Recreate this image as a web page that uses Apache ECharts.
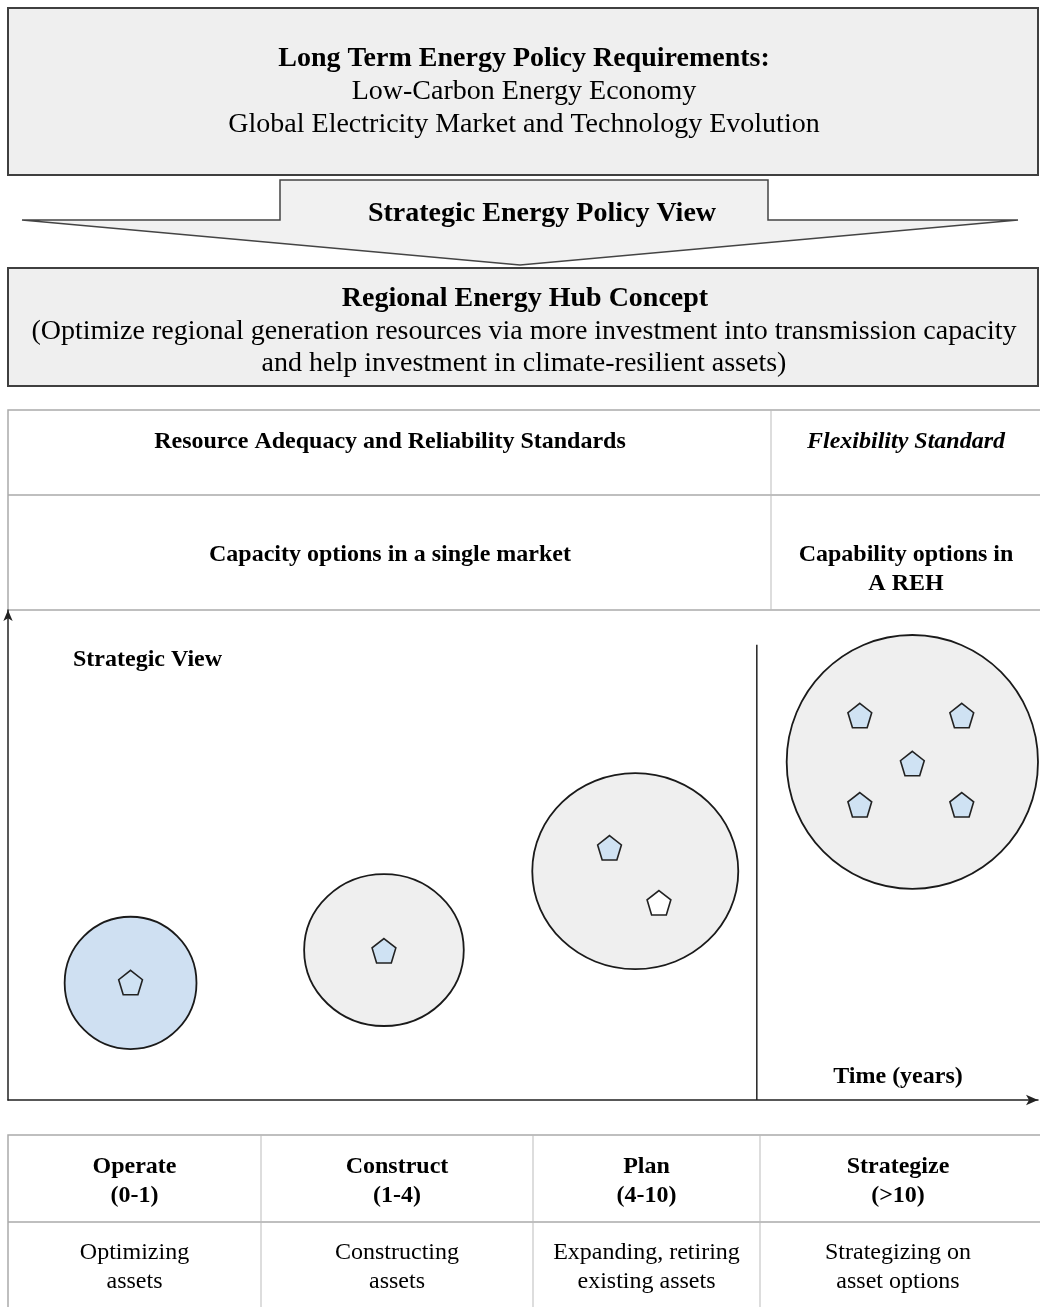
<!DOCTYPE html>
<html>
<head>
<meta charset="utf-8">
<script src="https://cdn.jsdelivr.net/npm/echarts@6/dist/echarts.min.js"></script>
<style>
html,body{margin:0;padding:0;background:#fff;}
#chart{width:1040px;height:1307px;}
</style>
</head>
<body>
<div id="chart"></div>
<script>
// ---------- DATA ----------
const policyTitle = 'Long Term Energy Policy Requirements:';
const policyLines = ['Low-Carbon Energy Economy', 'Global Electricity Market and Technology Evolution'];
const arrowLabel = 'Strategic Energy Policy View';
const hubTitle = 'Regional Energy Hub Concept';
const hubLines = ['(Optimize regional generation resources via more investment into transmission capacity',
                  'and help investment in climate-resilient assets)'];
const standardsRow = ['Resource Adequacy and Reliability Standards', 'Flexibility Standard'];
const optionsRow = [['Capacity options in a single market'], ['Capability options in', 'A REH']];
const stageNames = ['Operate', 'Construct', 'Plan', 'Strategize'];
const stageYears = ['(0-1)', '(1-4)', '(4-10)', '(>10)'];
const stageActivities = [['Optimizing', 'assets'], ['Constructing', 'assets'],
                         ['Expanding, retiring', 'existing assets'], ['Strategizing on', 'asset options']];
const plotLabel = 'Strategic View';
const timeLabel = 'Time (years)';

// circles (portfolio of options per stage), axis units: x 0-100 (time), y 0-100 (strategic view)
const circleX  = [11.9, 36.5, 60.9, 87.8];
const circleY  = [23.9, 30.6, 46.7, 69.0];
const circleRX = [6.4, 7.75, 10.0, 12.2];
const circleRY = [13.5, 15.5, 20.0, 25.9];
const circleOperating = [1, 0, 0, 0];

// pentagons (individual assets / options)
const assetX = [11.9, 36.5, 58.4, 63.2, 82.7, 92.6, 87.8, 82.7, 92.6];
const assetY = [23.9, 30.4, 51.4, 40.2, 78.4, 78.4, 68.6, 60.2, 60.2];
const assetActive = [1, 1, 1, 0, 1, 1, 1, 1, 1];

// REH boundary position on the time axis
const rehBoundaryX = 72.7;
const rehBoundaryTop = 92.9;

// ---------- CHART ----------
const FONT = '"Liberation Serif", "Times New Roman", serif';
const chart = echarts.init(document.getElementById('chart'), null, {renderer: 'canvas'});

function txt(x, y, text, size, weight, align, style) {
  return {
    type: 'text', x: x, y: y + 2, z: 10,
    style: {
      text: text, fill: '#000', font: (style || 'normal') + ' ' + (weight || 'normal') + ' ' + size + 'px ' + FONT,
      textAlign: align || 'center', textVerticalAlign: 'middle'
    }
  };
}
function hline(x1, x2, y, color, w) {
  return {type: 'line', shape: {x1: x1, y1: y, x2: x2, y2: y}, style: {stroke: color, lineWidth: w}};
}
function vline(x, y1, y2, color, w) {
  return {type: 'line', shape: {x1: x, y1: y1, x2: x, y2: y2}, style: {stroke: color, lineWidth: w}};
}

const graphics = [];
// top box
graphics.push({type: 'rect', shape: {x: 8, y: 8, width: 1030, height: 167},
  style: {fill: '#efefef', stroke: '#3f3f3f', lineWidth: 2}});
graphics.push(txt(524, 57, policyTitle, 28, 'bold'));
policyLines.forEach((t, i) => graphics.push(txt(524, 90 + i * 33, t, 28)));
// arrow
graphics.push({type: 'polygon', shape: {points: [[280, 180], [768, 180], [768, 220], [1018, 220], [520, 265], [22, 220], [280, 220]]},
  style: {fill: '#f1f1f1', stroke: '#444444', lineWidth: 1.5}});
graphics.push(txt(542, 212, arrowLabel, 28, 'bold'));
// hub box
graphics.push({type: 'rect', shape: {x: 8, y: 268, width: 1030, height: 118},
  style: {fill: '#efefef', stroke: '#3f3f3f', lineWidth: 2}});
graphics.push(txt(525, 297, hubTitle, 28, 'bold'));
hubLines.forEach((t, i) => graphics.push(txt(524, 330 + i * 32, t, 28)));
// standards table
graphics.push({type: 'rect', shape: {x: 8, y: 410, width: 1034, height: 200},
  style: {fill: 'none', stroke: '#aaaaaa', lineWidth: 1.5}});
graphics.push(hline(8, 1040, 495, '#aaaaaa', 1.5));
graphics.push(vline(771, 410, 610, '#bbbbbb', 1));
graphics.push(txt(390, 440, standardsRow[0], 24, 'bold'));
graphics.push(txt(906, 440, standardsRow[1], 24, 'bold', 'center', 'italic'));
optionsRow[0].forEach((t, i) => graphics.push(txt(390, 553 + i * 29, t, 24, 'bold')));
optionsRow[1].forEach((t, i) => graphics.push(txt(906, 553 + i * 29, t, 24, 'bold')));
// plot labels
graphics.push(txt(73, 658, plotLabel, 24, 'bold', 'left'));
graphics.push(txt(898, 1075, timeLabel, 24, 'bold'));
// bottom table
const colEdges = [8, 261, 533, 760, 1040];
graphics.push({type: 'rect', shape: {x: 8, y: 1135, width: 1034, height: 190},
  style: {fill: 'none', stroke: '#aaaaaa', lineWidth: 1.5}});
graphics.push(hline(8, 1040, 1222, '#aaaaaa', 1.5));
[261, 533, 760].forEach(x => graphics.push(vline(x, 1135, 1307, '#bbbbbb', 1)));
stageNames.forEach((name, i) => {
  const cx = i === 3 ? 898 : (colEdges[i] + colEdges[i + 1]) / 2;
  graphics.push(txt(cx, 1165, name, 24, 'bold'));
  graphics.push(txt(cx, 1194, stageYears[i], 24, 'bold'));
  stageActivities[i].forEach((t, j) => graphics.push(txt(cx, 1251 + j * 29, t, 24)));
});

const circleData = circleX.map((x, i) => [x, circleY[i], circleRX[i], circleRY[i], circleOperating[i]]);
const assetData = assetX.map((x, i) => [x, assetY[i], assetActive[i]]);

function pentagon(cx, cy, rx, ry) {
  const pts = [];
  for (let k = 0; k < 5; k++) {
    const a = -Math.PI / 2 + k * 2 * Math.PI / 5;
    pts.push([cx + rx * Math.cos(a), cy + ry * Math.sin(a) + 1]);
  }
  return pts;
}

const option = {
  backgroundColor: '#ffffff',
  animation: false,
  grid: {left: 8, top: 610, width: 1030, height: 490},
  xAxis: {
    type: 'value', min: 0, max: 100,
    axisLine: {show: true, symbol: ['none', 'arrow'], symbolSize: [8, 12], lineStyle: {color: '#222', width: 1.5}},
    axisTick: {show: false}, axisLabel: {show: false}, splitLine: {show: false}
  },
  yAxis: {
    type: 'value', min: 0, max: 100,
    axisLine: {show: true, symbol: ['none', 'arrow'], symbolSize: [7, 11], lineStyle: {color: '#222', width: 1.5}},
    axisTick: {show: false}, axisLabel: {show: false}, splitLine: {show: false}
  },
  graphic: graphics,
  series: [
    {
      type: 'line', data: [[rehBoundaryX, 0], [rehBoundaryX, rehBoundaryTop]],
      symbol: 'none', lineStyle: {color: '#222', width: 1.5}, silent: true
    },
    {
      type: 'custom', data: circleData, z: 3,
      renderItem: function (params, api) {
        const c = api.coord([api.value(0), api.value(1)]);
        const s = api.size([api.value(2), api.value(3)]);
        return {
          type: 'ellipse',
          shape: {cx: c[0], cy: c[1], rx: s[0], ry: s[1]},
          style: {fill: api.value(4) ? '#cfe0f2' : '#efefef', stroke: '#1a1a1a', lineWidth: 1.8}
        };
      }
    },
    {
      type: 'custom', data: assetData, z: 4,
      renderItem: function (params, api) {
        const c = api.coord([api.value(0), api.value(1)]);
        return {
          type: 'polygon',
          shape: {points: pentagon(c[0], c[1], 12.5, 13.5)},
          style: {fill: api.value(2) ? '#cfe2f3' : '#ffffff', stroke: '#222222', lineWidth: 1.6}
        };
      }
    }
  ]
};
chart.setOption(option);
</script>
</body>
</html>
